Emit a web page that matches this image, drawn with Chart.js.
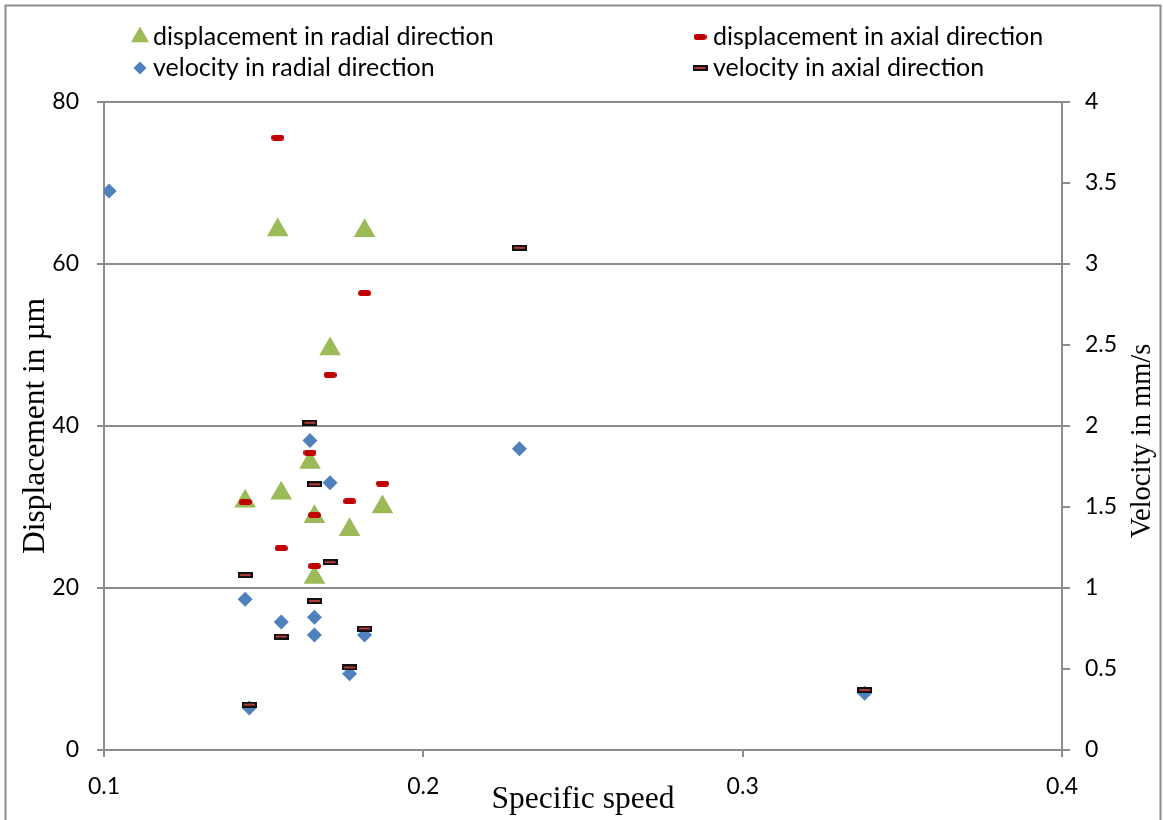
<!DOCTYPE html>
<html>
<head>
<meta charset="utf-8">
<script src="https://cdn.jsdelivr.net/npm/chart.js@4.4.1/dist/chart.umd.min.js"></script>
<style>
  html, body { margin: 0; padding: 0; background: #fff; }
  canvas { display: block; }
</style>
</head>
<body>
<canvas id="c" width="1163" height="820"></canvas>
<script>
// Specific speed (x) and measured vibration levels per series
const speedDispRadial = [0.1442, 0.1544, 0.1555, 0.1645, 0.1659, 0.1659, 0.1708, 0.1769, 0.1816, 0.1872];
const dispRadial      = [30.7, 64.2, 31.7, 35.5, 28.8, 21.3, 49.5, 27.2, 64.1, 30.0];

const speedDispAxial  = [0.1442, 0.1544, 0.1555, 0.1645, 0.1659, 0.1659, 0.1708, 0.1769, 0.1816, 0.1872];
const dispAxial       = [30.6, 75.6, 24.9, 36.7, 29.0, 22.7, 46.3, 30.7, 56.4, 32.9];

const speedVelRadial  = [0.1016, 0.1442, 0.1455, 0.1555, 0.1645, 0.1659, 0.1659, 0.1708, 0.1769, 0.1816, 0.2301, 0.3382];
const velRadial       = [3.45, 0.93, 0.26, 0.79, 1.91, 0.82, 0.71, 1.65, 0.47, 0.71, 1.86, 0.35];

const speedVelAxial   = [0.1442, 0.1455, 0.1555, 0.1645, 0.1659, 0.1659, 0.1708, 0.1769, 0.1816, 0.2301, 0.3382];
const velAxial        = [1.08, 0.28, 0.70, 2.02, 1.64, 0.92, 1.16, 0.51, 0.75, 3.10, 0.37];

const seriesLabels = [
  'displacement in radial direction',
  'displacement in axial direction',
  'velocity in radial direction',
  'velocity in axial direction'
];

const speedTicks = [0.1, 0.2, 0.3, 0.4];
const dispTicks  = [0, 20, 40, 60, 80];
const velTicks   = [0, 0.5, 1, 1.5, 2, 2.5, 3, 3.5, 4];

const velTitle = 'Velocity in mm/s';

const pts = (xs, ys) => xs.map((x, i) => ({ x: x, y: ys[i] }));

// Small bar-shaped marker images for the axial series
function roundedDash(w, h, fill) {
  const c = document.createElement('canvas');
  c.width = w; c.height = h;
  const g = c.getContext('2d');
  const r = h / 2;
  g.beginPath();
  g.moveTo(r, 0);
  g.lineTo(w - r, 0);
  g.arc(w - r, r, r, -Math.PI / 2, Math.PI / 2);
  g.lineTo(r, h);
  g.arc(r, r, r, Math.PI / 2, Math.PI * 1.5);
  g.closePath();
  g.fillStyle = fill;
  g.fill();
  return c;
}
function outlinedDash(w, h, fill, edge) {
  const c = document.createElement('canvas');
  c.width = w; c.height = h;
  const g = c.getContext('2d');
  g.fillStyle = edge;
  g.fillRect(0, 0, w, h);
  g.fillStyle = fill;
  g.fillRect(2, 2, w - 4, h - 4);
  return c;
}
const redDash = roundedDash(13, 6, '#C00000');
const darkDash = outlinedDash(15, 6, '#B23B3B', '#111111');

const gridGrey = '#8C8C8C';
const tickFont = { family: 'Lato', size: 23 };
const titleFont = { family: 'Liberation Serif', size: 31.5 };

// Two-column legend drawn above the plot
const columnLegend = {
  id: 'columnLegend',
  afterDraw(chart, args, opts) {
    const ctx = chart.ctx;
    ctx.save();
    ctx.font = opts.font;
    ctx.textBaseline = 'middle';
    chart.data.datasets.forEach((ds, i) => {
      const x = opts.columns[i % 2];
      const y = opts.rows[Math.floor(i / 2)];
      ctx.fillStyle = ds.backgroundColor;
      ctx.strokeStyle = ds.backgroundColor;
      Chart.helpers.drawPoint(ctx, {
        pointStyle: ds.pointStyle,
        radius: ds.legendRadius,
        rotation: 0,
        borderWidth: 0
      }, x, y);
      ctx.fillStyle = '#000';
      ctx.fillText(ds.label, x + opts.textGap, y);
    });
    ctx.restore();
  }
};

// Right-hand axis title, reading bottom to top like the left one
const rightTitle = {
  id: 'rightTitle',
  afterDraw(chart, args, opts) {
    const ctx = chart.ctx;
    ctx.save();
    ctx.translate(opts.x, opts.y);
    ctx.rotate(-Math.PI / 2);
    ctx.font = opts.font;
    ctx.fillStyle = '#000';
    ctx.textAlign = 'center';
    ctx.textBaseline = 'middle';
    ctx.fillText(opts.text, 0, 0);
    ctx.restore();
  }
};

// Light frame around the whole chart
const frame = {
  id: 'frame',
  beforeDraw(chart) {
    const ctx = chart.ctx;
    ctx.save();
    ctx.fillStyle = '#fff';
    ctx.fillRect(0, 0, chart.width, chart.height);
    ctx.strokeStyle = '#8C8C8C';
    ctx.lineWidth = 2;
    ctx.strokeRect(5.5, 5.5, 1155, 900);
    ctx.restore();
  }
};

new Chart(document.getElementById('c'), {
  type: 'scatter',
  data: {
    datasets: [
      {
        label: seriesLabels[0],
        data: pts(speedDispRadial, dispRadial),
        yAxisID: 'yDisp',
        pointStyle: 'triangle',
        pointRadius: 12.5,
        legendRadius: 10.5,
        backgroundColor: '#9BBB59',
        borderColor: '#9BBB59',
        borderWidth: 0,
        order: 3
      },
      {
        label: seriesLabels[1],
        data: pts(speedDispAxial, dispAxial),
        yAxisID: 'yDisp',
        pointStyle: redDash,
        legendRadius: 6,
        backgroundColor: '#C00000',
        borderColor: '#C00000',
        borderWidth: 0,
        order: 2
      },
      {
        label: seriesLabels[2],
        data: pts(speedVelRadial, velRadial),
        yAxisID: 'yVel',
        pointStyle: 'rectRot',
        pointRadius: 7.5,
        legendRadius: 6.5,
        backgroundColor: '#4F81BD',
        borderColor: '#4F81BD',
        borderWidth: 0,
        order: 1
      },
      {
        label: seriesLabels[3],
        data: pts(speedVelAxial, velAxial),
        yAxisID: 'yVel',
        pointStyle: darkDash,
        legendRadius: 7,
        backgroundColor: '#B23B3B',
        borderColor: '#111111',
        borderWidth: 0,
        order: 0
      }
    ]
  },
  options: {
    responsive: false,
    animation: false,
    events: [],
    layout: { padding: { top: 102, left: 0, right: 0, bottom: 0 } },
    plugins: {
      legend: { display: false },
      tooltip: { enabled: false },
      columnLegend: {
        font: '25px Lato',
        columns: [140, 700],
        rows: [37, 68],
        textGap: 13
      },
      rightTitle: {
        text: velTitle,
        font: '28.5px "Liberation Serif"',
        x: 1143,
        y: 441
      }
    },
    scales: {
      x: {
        type: 'linear',
        position: 'bottom',
        min: 0.1,
        max: 0.4,
        afterBuildTicks: s => { s.ticks = speedTicks.map(v => ({ value: v })); },
        ticks: {
          font: tickFont,
          color: '#000',
          padding: 16,
          maxRotation: 0,
          callback: v => v.toFixed(1)
        },
        grid: { drawOnChartArea: false, drawTicks: true, tickLength: 7, color: gridGrey, lineWidth: 2 },
        border: { display: true, color: gridGrey, width: 2 },
        title: { display: true, text: 'Specific speed', font: titleFont, color: '#000', padding: { top: 0, bottom: 1 } },
        afterFit: s => { s.height = 70; }
      },
      yDisp: {
        type: 'linear',
        position: 'left',
        min: 0,
        max: 80,
        afterBuildTicks: s => { s.ticks = dispTicks.map(v => ({ value: v })); },
        ticks: { font: tickFont, color: '#000', padding: 18, callback: v => String(v) },
        grid: { drawOnChartArea: true, drawTicks: true, tickLength: 7, color: gridGrey, lineWidth: 2 },
        border: { display: true, color: gridGrey, width: 2 },
        title: { display: true, text: 'Displacement in µm', font: titleFont, color: '#000', padding: { top: 17, bottom: 0 } },
        afterFit: s => { s.width = 104; }
      },
      yVel: {
        type: 'linear',
        position: 'right',
        min: 0,
        max: 4,
        afterBuildTicks: s => { s.ticks = velTicks.map(v => ({ value: v })); },
        ticks: { font: tickFont, color: '#000', padding: 15, callback: v => String(v) },
        grid: { drawOnChartArea: false, drawTicks: true, tickLength: 8, color: gridGrey, lineWidth: 2 },
        border: { display: true, color: gridGrey, width: 2 },
        title: { display: false },
        afterFit: s => { s.width = 101; }
      }
    }
  },
  plugins: [frame, columnLegend, rightTitle]
});
</script>
</body>
</html>
